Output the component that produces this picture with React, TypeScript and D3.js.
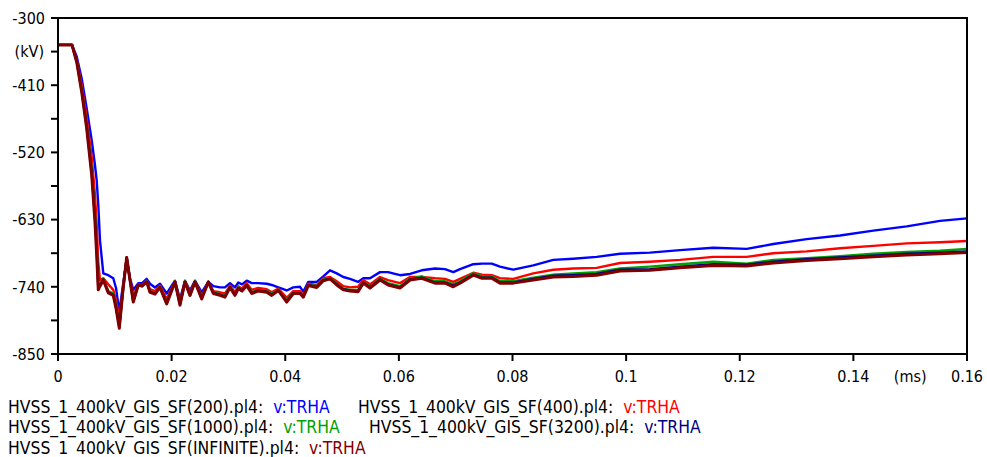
import React from "react";
import * as d3 from "d3";

// time axis (ms)
const T = [
  0, 0.00246, 0.00329, 0.00417, 0.00505, 0.00593, 0.00651, 0.00681, 0.00709, 0.00739,
  0.00797, 0.00885, 0.00973, 0.01021, 0.01079, 0.01144, 0.01209, 0.01267, 0.01325, 0.01413,
  0.01479, 0.01561, 0.01619, 0.01707, 0.01795, 0.01913, 0.02059, 0.02147, 0.02235, 0.02323,
  0.02411, 0.02529, 0.02646, 0.02734, 0.02851, 0.02939, 0.03027, 0.03115, 0.03174, 0.03239,
  0.03322, 0.0341, 0.0352, 0.03674, 0.03762, 0.03878, 0.04026, 0.04142, 0.0426, 0.04318,
  0.04406, 0.04554, 0.0467, 0.04788, 0.04906, 0.05022, 0.0514, 0.05281, 0.05374, 0.05492,
  0.05668, 0.05809, 0.0602, 0.06196, 0.06402, 0.06636, 0.06812, 0.06958, 0.07076, 0.0731,
  0.07463, 0.07634, 0.0778, 0.08014, 0.08366, 0.08718, 0.0907, 0.09482, 0.09892, 0.1042,
  0.10949, 0.11535, 0.12122, 0.12591, 0.13179, 0.13765, 0.14351, 0.14939, 0.15525, 0.16,
];

// v:TRHA (kV)
const SF200 = [
  -344, -344, -363, -399, -448, -500, -541, -566, -606, -664,
  -718, -721, -726, -742, -781, -737, -696, -726, -745, -734,
  -734, -727, -735, -741, -735, -751, -730, -760, -730, -746,
  -730, -749, -732, -739, -741, -741, -734, -741, -733, -736,
  -730, -734, -734, -735, -737, -741, -746, -741, -740, -748,
  -732, -732, -723, -713, -718, -724, -727, -732, -726, -726,
  -716, -716, -721, -719, -713, -710, -711, -716, -711, -703,
  -702, -702, -707, -712, -705, -696, -694, -691, -686, -684,
  -680, -676, -678, -670, -662, -656, -648, -641, -632, -628,
];
const SF400 = [
  -344, -344, -368, -410, -464, -528, -590, -639, -700, -729,
  -726, -736, -745, -762, -791, -742, -693, -727, -755, -736,
  -737, -730, -744, -747, -738, -760, -731, -765, -731, -750,
  -731, -755, -732, -747, -749, -751, -738, -749, -739, -743,
  -734, -745, -742, -744, -749, -743, -758, -747, -747, -754,
  -735, -737, -726, -724, -731, -739, -741, -740, -729, -736,
  -724, -729, -734, -724, -724, -726, -727, -732, -727, -717,
  -720, -721, -726, -727, -718, -712, -710, -709, -701, -699,
  -696, -691, -691, -685, -682, -677, -673, -669, -667, -665,
];
const SF1000 = [
  -344, -344, -370, -417, -475, -548, -620, -672, -737, -736,
  -727, -747, -751, -770, -803, -745, -692, -729, -762, -736,
  -738, -731, -747, -750, -740, -765, -731, -768, -731, -753,
  -731, -758, -732, -749, -752, -754, -740, -752, -741, -745,
  -736, -749, -745, -747, -752, -745, -763, -749, -749, -755,
  -736, -739, -728, -726, -735, -743, -745, -745, -732, -740,
  -727, -734, -739, -727, -723, -731, -731, -736, -731, -718,
  -723, -723, -731, -731, -725, -720, -718, -716, -710, -707,
  -703, -699, -702, -696, -693, -690, -686, -683, -681, -678,
];
const SF3200 = [
  -344, -344, -371, -419, -478, -553, -628, -681, -741, -738,
  -728, -749, -753, -773, -806, -745, -692, -729, -764, -737,
  -739, -732, -748, -751, -741, -767, -732, -769, -732, -754,
  -732, -759, -732, -750, -753, -756, -741, -753, -742, -746,
  -737, -750, -746, -748, -753, -746, -764, -750, -750, -756,
  -737, -740, -729, -727, -736, -744, -746, -747, -733, -741,
  -728, -736, -741, -728, -725, -733, -733, -738, -733, -720,
  -725, -725, -733, -733, -727, -722, -721, -719, -712, -711,
  -707, -703, -704, -699, -695, -692, -689, -686, -684, -682,
];
const SFINF = [
  -344, -344, -372, -421, -481, -557, -634, -688, -745, -739,
  -729, -750, -754, -775, -808, -745, -692, -729, -765, -737,
  -739, -732, -749, -752, -741, -768, -732, -770, -732, -754,
  -732, -760, -732, -751, -754, -757, -741, -754, -743, -747,
  -738, -751, -747, -749, -754, -746, -765, -751, -751, -757,
  -738, -741, -730, -727, -737, -745, -747, -748, -734, -742,
  -729, -737, -742, -729, -726, -734, -734, -740, -734, -721,
  -726, -726, -734, -734, -729, -724, -723, -721, -714, -713,
  -709, -705, -706, -701, -697, -694, -691, -688, -686, -684,
];

const SERIES_NAMES = [
  "HVSS_1_400kV_GIS_SF(200).pl4:",
  "HVSS_1_400kV_GIS_SF(400).pl4:",
  "HVSS_1_400kV_GIS_SF(1000).pl4:",
  "HVSS_1_400kV_GIS_SF(3200).pl4:",
  "HVSS_1_400kV_GIS_SF(INFINITE).pl4:",
];
const SERIES_VALUES = [SF200, SF400, SF1000, SF3200, SFINF];
const SERIES_COLORS = ["#0000ff", "#ff0000", "#00a000", "#000080", "#800000"];
const VAR_LABEL = "v:TRHA";

const X_TICKS = [0, 0.02, 0.04, 0.06, 0.08, 0.1, 0.12, 0.14, 0.16];
const X_TICK_LABELS = ["0", "0.02", "0.04", "0.06", "0.08", "0.1", "0.12", "0.14", "0.16"];
const Y_TICKS = [-300, -410, -520, -630, -740, -850];
const Y_MINOR = [-355, -465, -575, -685, -795];
const X_UNIT = "(ms)";
const Y_UNIT = "(kV)";

const W = 987;
const H = 457;
const M = { left: 58, right: 967, top: 18, bottom: 354 };
const FONT = "'DejaVu Sans Condensed', 'DejaVu Sans', sans-serif";

// legend layout: [row, x]
const LEGEND_POS: [number, number][] = [
  [0, 8],
  [0, 358],
  [1, 8],
  [1, 369],
  [2, 8],
];

export default function App() {
  const x = d3.scaleLinear().domain([0, 0.16]).range([M.left, M.right]);
  const y = d3.scaleLinear().domain([-850, -300]).range([M.bottom, M.top]);
  const line = d3
    .line<number>()
    .x((_, i) => x(T[i]))
    .y((d) => y(d));

  return (
    <svg
      width={W}
      height={H}
      style={{ position: "absolute", left: 0, top: 0, background: "#fff" }}
      fontFamily={FONT}
    >
      <rect x={0} y={0} width={W} height={H} fill="#fff" />
      {SERIES_VALUES.map((vals, i) => (
        <path
          key={i}
          d={line(vals) || ""}
          fill="none"
          stroke={SERIES_COLORS[i]}
          strokeWidth={i === 4 ? 3 : 2.4}
          strokeLinejoin="round"
        />
      ))}
      {/* frame */}
      <rect
        x={M.left}
        y={M.top}
        width={M.right - M.left}
        height={M.bottom - M.top}
        fill="none"
        stroke="#000"
        strokeWidth={2}
      />
      {/* y ticks */}
      {[...Y_TICKS, ...Y_MINOR].map((v) => (
        <line key={"yt" + v} x1={M.left - 7} x2={M.left} y1={y(v)} y2={y(v)} stroke="#000" strokeWidth={2} />
      ))}
      {Y_TICKS.map((v) => (
        <text key={"yl" + v} x={45} y={y(v)} dy="0.36em" textAnchor="end" fontSize={16} fill="#000">
          {String(v)}
        </text>
      ))}
      <text x={44} y={y(-355)} dy="0.36em" textAnchor="end" fontSize={16} fill="#000">
        {Y_UNIT}
      </text>
      {/* x ticks */}
      {X_TICKS.map((v, i) => (
        <g key={"xt" + v}>
          <line x1={x(v)} x2={x(v)} y1={M.bottom} y2={M.bottom + 7} stroke="#000" strokeWidth={2} />
          <text x={x(v)} y={382} textAnchor="middle" fontSize={16} fill="#000">
            {X_TICK_LABELS[i]}
          </text>
        </g>
      ))}
      <text x={x(0.15)} y={382} textAnchor="middle" fontSize={16} fill="#000">
        {X_UNIT}
      </text>
      {/* legend */}
      {SERIES_NAMES.map((name, i) => (
        <text
          key={"lg" + i}
          x={LEGEND_POS[i][1]}
          y={412.5 + LEGEND_POS[i][0] * 20.7}
          fontSize={17.4}
          fill="#000"
          style={{ whiteSpace: "pre" }}
        >
          {name}
          <tspan fill={SERIES_COLORS[i]}>{"  " + VAR_LABEL}</tspan>
        </text>
      ))}
    </svg>
  );
}
